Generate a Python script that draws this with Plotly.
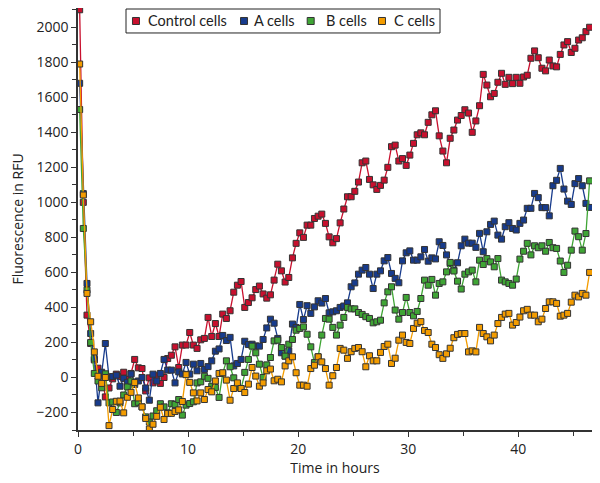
"""
Fluorescence time course for control and treated cells (A, B, C).
Readings every 20 minutes over ~46 hours.
"""
import plotly.graph_objects as go

# Time grid: plate read every 20 min, first read shortly after t=0
hours = [round(0.15 + i / 3, 3) for i in range(140)]

control = [
    2100, 1000, 356, 194, 100, 53, 20, -111, -60, -8,
    19, 5, 30, -10, 23, 103, 55, 51, -77, -2,
    -31, 10, -34, 0, 108, 127, 175, 57, 185, 185,
    257, 185, 166, 215, 223, 343, 234, 308, 234, 362,
    337, 381, 487, 527, 548, 400, 428, 455, 502, 522,
    477, 453, 472, 556, 647, 609, 545, 571, 683, 766,
    826, 800, 870, 870, 908, 921, 933, 880, 803, 769,
    793, 883, 962, 1032, 1032, 1063, 1116, 1226, 1236, 1131,
    1100, 1074, 1097, 1127, 1200, 1318, 1327, 1236, 1250, 1211,
    1270, 1337, 1386, 1397, 1386, 1457, 1500, 1523, 1380, 1293,
    1226, 1366, 1413, 1470, 1496, 1529, 1510, 1400, 1465, 1552,
    1731, 1670, 1603, 1622, 1686, 1737, 1674, 1714, 1678, 1714,
    1680, 1716, 1726, 1823, 1865, 1826, 1766, 1751, 1813, 1779,
    1774, 1845, 1899, 1918, 1856, 1880, 1927, 1940, 1975, 2000,
]

a_cells = [
    1680, 1050, 537, 251, 108, -145, 30, 194, 3, 5,
    13, -50, -5, -28, 20, -40, -20, 0, -60, -130,
    19, -20, 23, 103, 42, 42, -31, 32, 20, 86,
    19, 76, 38, 80, 46, 62, 95, 150, 163, 240,
    211, 229, 66, 80, 103, 207, 188, 190, 180, 179,
    217, 283, 333, 310, 223, 141, 122, 152, 305, 285,
    417, 331, 410, 366, 403, 438, 425, 451, 369, 375,
    381, 400, 408, 426, 518, 540, 590, 613, 628, 590,
    508, 590, 609, 666, 685, 594, 566, 541, 666, 712,
    723, 670, 670, 689, 731, 664, 683, 677, 775, 754,
    700, 651, 613, 655, 752, 790, 767, 767, 743, 823,
    718, 832, 874, 893, 813, 790, 861, 884, 851, 842,
    880, 899, 966, 966, 1051, 1027, 970, 970, 923, 1095,
    1126, 1194, 1076, 1007, 988, 1107, 1136, 1095, 994, 971,
]

b_cells = [
    1530, 851, 499, 200, 23, -20, -59, 21, -145, -140,
    -200, -145, -100, -54, -20, -150, -142, -168, -225, -254,
    -220, -190, -150, -168, -202, -150, -154, -126, -215, -158,
    -149, -139, -31, -25, 7, -5, -50, -57, -114, 23,
    95, 61, -2, -55, -63, 29, 103, 179, 141, 76,
    0, 72, 114, 209, 213, 171, 122, 190, 217, 270,
    280, 289, 247, 175, 85, 118, 242, 337, 333, 286,
    242, 299, 343, 400, 392, 392, 371, 360, 347, 337,
    312, 318, 327, 426, 489, 518, 385, 333, 371, 457,
    371, 352, 377, 451, 556, 527, 560, 470, 537, 546,
    603, 657, 608, 550, 505, 590, 603, 613, 546, 670,
    645, 679, 660, 632, 679, 556, 546, 537, 527, 562,
    676, 721, 766, 700, 752, 741, 752, 721, 771, 741,
    737, 665, 600, 641, 727, 836, 804, 727, 822, 1123,
]

c_cells = [
    1790, 1042, 480, 318, 146, 7, -34, 0, -275, -183,
    -136, -135, -202, -113, -85, -29, -117, -168, -234, -294,
    -267, -222, -170, -240, -206, -205, -194, -185, -137, 16,
    -28, -88, -134, -88, -126, -69, -82, -20, 23, 27,
    -15, -130, -63, -31, -63, -86, -38, 57, 8, -50,
    -31, 38, 48, -19, -10, -25, 66, 95, 118, 27,
    -44, -44, -50, 51, 70, 118, 89, 51, -44, 10,
    57, 166, 156, 109, 147, 166, 171, 147, 61, 124,
    95, 95, 143, 177, 190, 80, 110, 213, 242, 200,
    194, 280, 310, 319, 268, 257, 190, 171, 130, 109,
    135, 167, 227, 246, 251, 251, 146, 152, 146, 286,
    251, 232, 209, 242, 308, 343, 362, 366, 299, 314,
    345, 381, 389, 356, 356, 318, 333, 394, 432, 432,
    423, 350, 356, 366, 430, 470, 460, 480, 470, 600,
]

series = [
    ("Control cells", control, "#c8102e"),
    ("A cells", a_cells, "#173b8c"),
    ("B cells", b_cells, "#3fa535"),
    ("C cells", c_cells, "#f39c00"),
]

TEXT_FONT = "Open Sans, sans-serif"
LEGEND_FONT = "Lato, sans-serif"
INK = "#222222"

fig = go.Figure()
for name, vals, color in series:
    fig.add_trace(go.Scatter(
        x=hours, y=vals, name=name, mode="lines+markers", showlegend=False,
        line=dict(color=color, width=1.3),
        marker=dict(symbol="square", size=6, color=color,
                    line=dict(color="#333333", width=1)),
    ))

axis_common = dict(
    showline=True, linecolor="#333333", linewidth=1.5,
    ticks="outside", ticklen=5, tickcolor="#333333",
    showgrid=False, zeroline=False,
    tickfont=dict(family=TEXT_FONT, size=14, color=INK),
)

fig.update_xaxes(
    range=[0, 46.7], dtick=10, tick0=0,
    minor=dict(dtick=5, ticklen=4, ticks="outside", tickcolor="#333333"),
    title=dict(text="Time in hours", font=dict(family=TEXT_FONT, size=14, color=INK),
               standoff=4),
    **axis_common,
)
fig.update_yaxes(
    range=[-300, 2110], dtick=200, tick0=0,
    minor=dict(dtick=100, ticklen=4, ticks="outside", tickcolor="#333333"),
    title=dict(text="Fluorescence in RFU", font=dict(family=TEXT_FONT, size=14, color=INK),
               standoff=12),
    **axis_common,
)

# Compact boxed legend (square swatch + label), placed in plot-paper coords
fig.add_shape(type="rect", xref="paper", yref="paper",
              x0=0.0934, x1=0.7043, y0=0.9408, y1=0.9976,
              line=dict(color=INK, width=1), fillcolor="white", layer="above")
swatch_x = [0.1128, 0.3230, 0.4527, 0.5914]
label_x = [0.1323, 0.3379, 0.4786, 0.6103]
leg_y = 0.9692
for (name, _, color), sx, lx in zip(series, swatch_x, label_x):
    fig.add_shape(type="rect", xref="paper", yref="paper",
                  x0=sx - 0.0068, x1=sx + 0.0068, y0=leg_y - 0.0083, y1=leg_y + 0.0083,
                  line=dict(color="#333333", width=1), fillcolor=color, layer="above")
    fig.add_annotation(text=name, xref="paper", yref="paper", x=lx, y=leg_y,
                       xanchor="left", yanchor="middle", showarrow=False,
                       font=dict(family=LEGEND_FONT, size=14.5, color=INK))

# page body adds 8px margin, so the figure is 8px smaller than the window
fig.update_layout(
    width=592, height=475,
    margin=dict(l=70, r=8, t=0, b=53),
    plot_bgcolor="white", paper_bgcolor="white",
    font=dict(family=TEXT_FONT, size=14, color=INK),
    showlegend=False,
)

fig.write_html("out.html")
